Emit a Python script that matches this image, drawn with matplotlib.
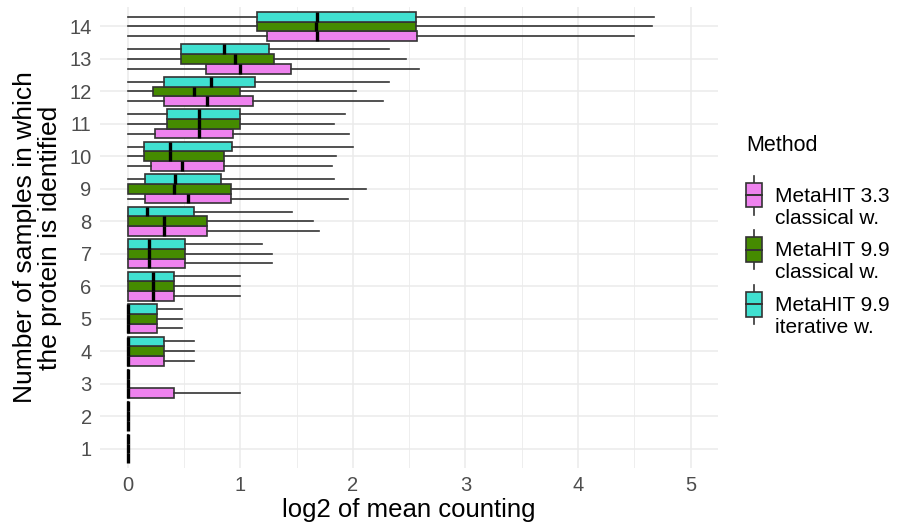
import matplotlib
matplotlib.use("Agg")
import matplotlib.pyplot as plt
from matplotlib.legend_handler import HandlerBase
from matplotlib.patches import Rectangle
from matplotlib.lines import Line2D
import numpy as np

plt.rcParams["font.family"] = ["Liberation Sans", "DejaVu Sans"]

# number of samples in which the protein is identified
samples = np.arange(1, 15)

methods = ["MetaHIT 3.3\nclassical w.", "MetaHIT 9.9\nclassical w.", "MetaHIT 9.9\niterative w."]
colors = ["#EE82EE", "#458B00", "#40E0D0"]

# box statistics per method (rows 1..14)
mh33_q1 = [0, 0, 0, 0, 0, 0, 0, 0, 0.155, 0.204, 0.246, 0.323, 0.696, 1.238]
mh33_med = [0, 0, 0, 0, 0, 0.222, 0.193, 0.323, 0.535, 0.485, 0.629, 0.703, 1.0, 1.684]
mh33_q3 = [0, 0, 0.415, 0.322, 0.263, 0.415, 0.513, 0.703, 0.921, 0.851, 0.935, 1.115, 1.452, 2.566]
mh33_hi = [0, 0, 1.0, 0.585, 0.485, 1.0, 1.28, 1.698, 1.958, 1.811, 1.969, 2.27, 2.584, 4.50]

mh99c_q1 = [0, 0, 0, 0, 0, 0, 0, 0, 0, 0.141, 0.352, 0.225, 0.471, 1.15]
mh99c_med = [0, 0, 0, 0, 0, 0.222, 0.193, 0.323, 0.411, 0.38, 0.629, 0.591, 0.949, 1.673]
mh99c_q3 = [0, 0, 0, 0.322, 0.263, 0.415, 0.513, 0.703, 0.921, 0.851, 1.0, 1.0, 1.301, 2.56]
mh99c_hi = [0, 0, 0, 0.585, 0.485, 1.0, 1.28, 1.646, 2.117, 1.853, 1.829, 2.029, 2.468, 4.659]

mh99i_q1 = [0, 0, 0, 0, 0, 0, 0, 0, 0.155, 0.141, 0.352, 0.323, 0.471, 1.15]
mh99i_med = [0, 0, 0, 0, 0, 0.222, 0.193, 0.169, 0.422, 0.38, 0.629, 0.742, 0.858, 1.684]
mh99i_q3 = [0, 0, 0, 0.322, 0.263, 0.415, 0.513, 0.587, 0.833, 0.925, 1.0, 1.132, 1.255, 2.56]
mh99i_hi = [0, 0, 0, 0.585, 0.485, 1.0, 1.195, 1.463, 1.829, 1.997, 1.934, 2.32, 2.32, 4.676]

whisker_lo = 0.0

series = [
    (mh33_q1, mh33_med, mh33_q3, mh33_hi),
    (mh99c_q1, mh99c_med, mh99c_q3, mh99c_hi),
    (mh99i_q1, mh99i_med, mh99i_q3, mh99i_hi),
]

edge = "#333333"
grid_col = "#EBEBEB"
text_col = "#4D4D4D"


class BoxHandler(HandlerBase):
    # ggplot-style boxplot key: vertical whiskers, box, median line
    def create_artists(self, legend, orig_handle, xdescent, ydescent,
                       width, height, fontsize, trans):
        fc = orig_handle.get_facecolor()
        cx = width / 2
        bw = width * 0.95
        top = height * 0.815
        bot = height * 0.185
        lo = Line2D([cx, cx], [0, bot], color=edge, lw=1.2, transform=trans)
        hi = Line2D([cx, cx], [top, height], color=edge, lw=1.2, transform=trans)
        rect = Rectangle((cx - bw / 2, bot), bw, top - bot, facecolor=fc,
                         edgecolor=edge, lw=1.2, transform=trans)
        med = Line2D([cx - bw / 2, cx + bw / 2], [height / 2, height / 2],
                     color=edge, lw=1.4, transform=trans)
        return [lo, hi, rect, med]


fig = plt.figure(figsize=(8.97, 5.24), dpi=100)
ax = fig.add_axes([100 / 897, 1 - 468 / 524, 618 / 897, 461 / 524])

width = 0.3
offsets = [-0.3, 0.0, 0.3]
for (q1, med, q3, hi), off, col in zip(series, offsets, colors):
    stats = []
    for i in range(len(samples)):
        stats.append(dict(whislo=whisker_lo, q1=q1[i], med=med[i], q3=q3[i], whishi=hi[i], fliers=[]))
    ax.bxp(stats, positions=samples + off, widths=width, orientation="horizontal",
           patch_artist=True, showcaps=False, showfliers=False,
           boxprops=dict(facecolor=col, edgecolor=edge, linewidth=1.2),
           whiskerprops=dict(color=edge, linewidth=1.2),
           medianprops=dict(color="black", linewidth=2.4, solid_capstyle="butt"),
           manage_ticks=False, zorder=3)

ax.set_xlim(-0.246, 5.243)
ax.set_ylim(0.4, 14.6)
ax.set_xticks(range(0, 6))
ax.set_xticks(np.arange(0.5, 5.5, 1.0), minor=True)
ax.set_yticks(samples)
ax.set_yticklabels([str(s) for s in samples])
ax.grid(True, which="major", color=grid_col, lw=1.1, zorder=0)
ax.grid(True, which="minor", axis="x", color=grid_col, lw=0.6, zorder=0)
ax.set_axisbelow(True)
for s in ax.spines.values():
    s.set_visible(False)
ax.tick_params(which="both", length=0, labelsize=14.5, labelcolor=text_col, pad=6)

ax.set_xlabel("log2 of mean counting", fontsize=18.5, labelpad=2)
ax.set_ylabel("Number of samples in which\nthe protein is identified", fontsize=19,
              linespacing=1.05)
ax.yaxis.set_label_coords(-38 / 618, 0.5)

handles = [Rectangle((0, 0), 1, 1, facecolor=c) for c in colors]
leg = fig.legend(handles, methods, title="Method", loc="center left",
                 bbox_to_anchor=(727 / 897, 1 - 236 / 524), frameon=False,
                 handler_map={Rectangle: BoxHandler()}, fontsize=15, title_fontsize=15.5,
                 handlelength=0.8, handleheight=2.5, labelspacing=0.65, handletextpad=0.6)
leg._legend_box.align = "left"
leg._legend_box.sep = 22

fig.savefig("out.png", dpi=100)
